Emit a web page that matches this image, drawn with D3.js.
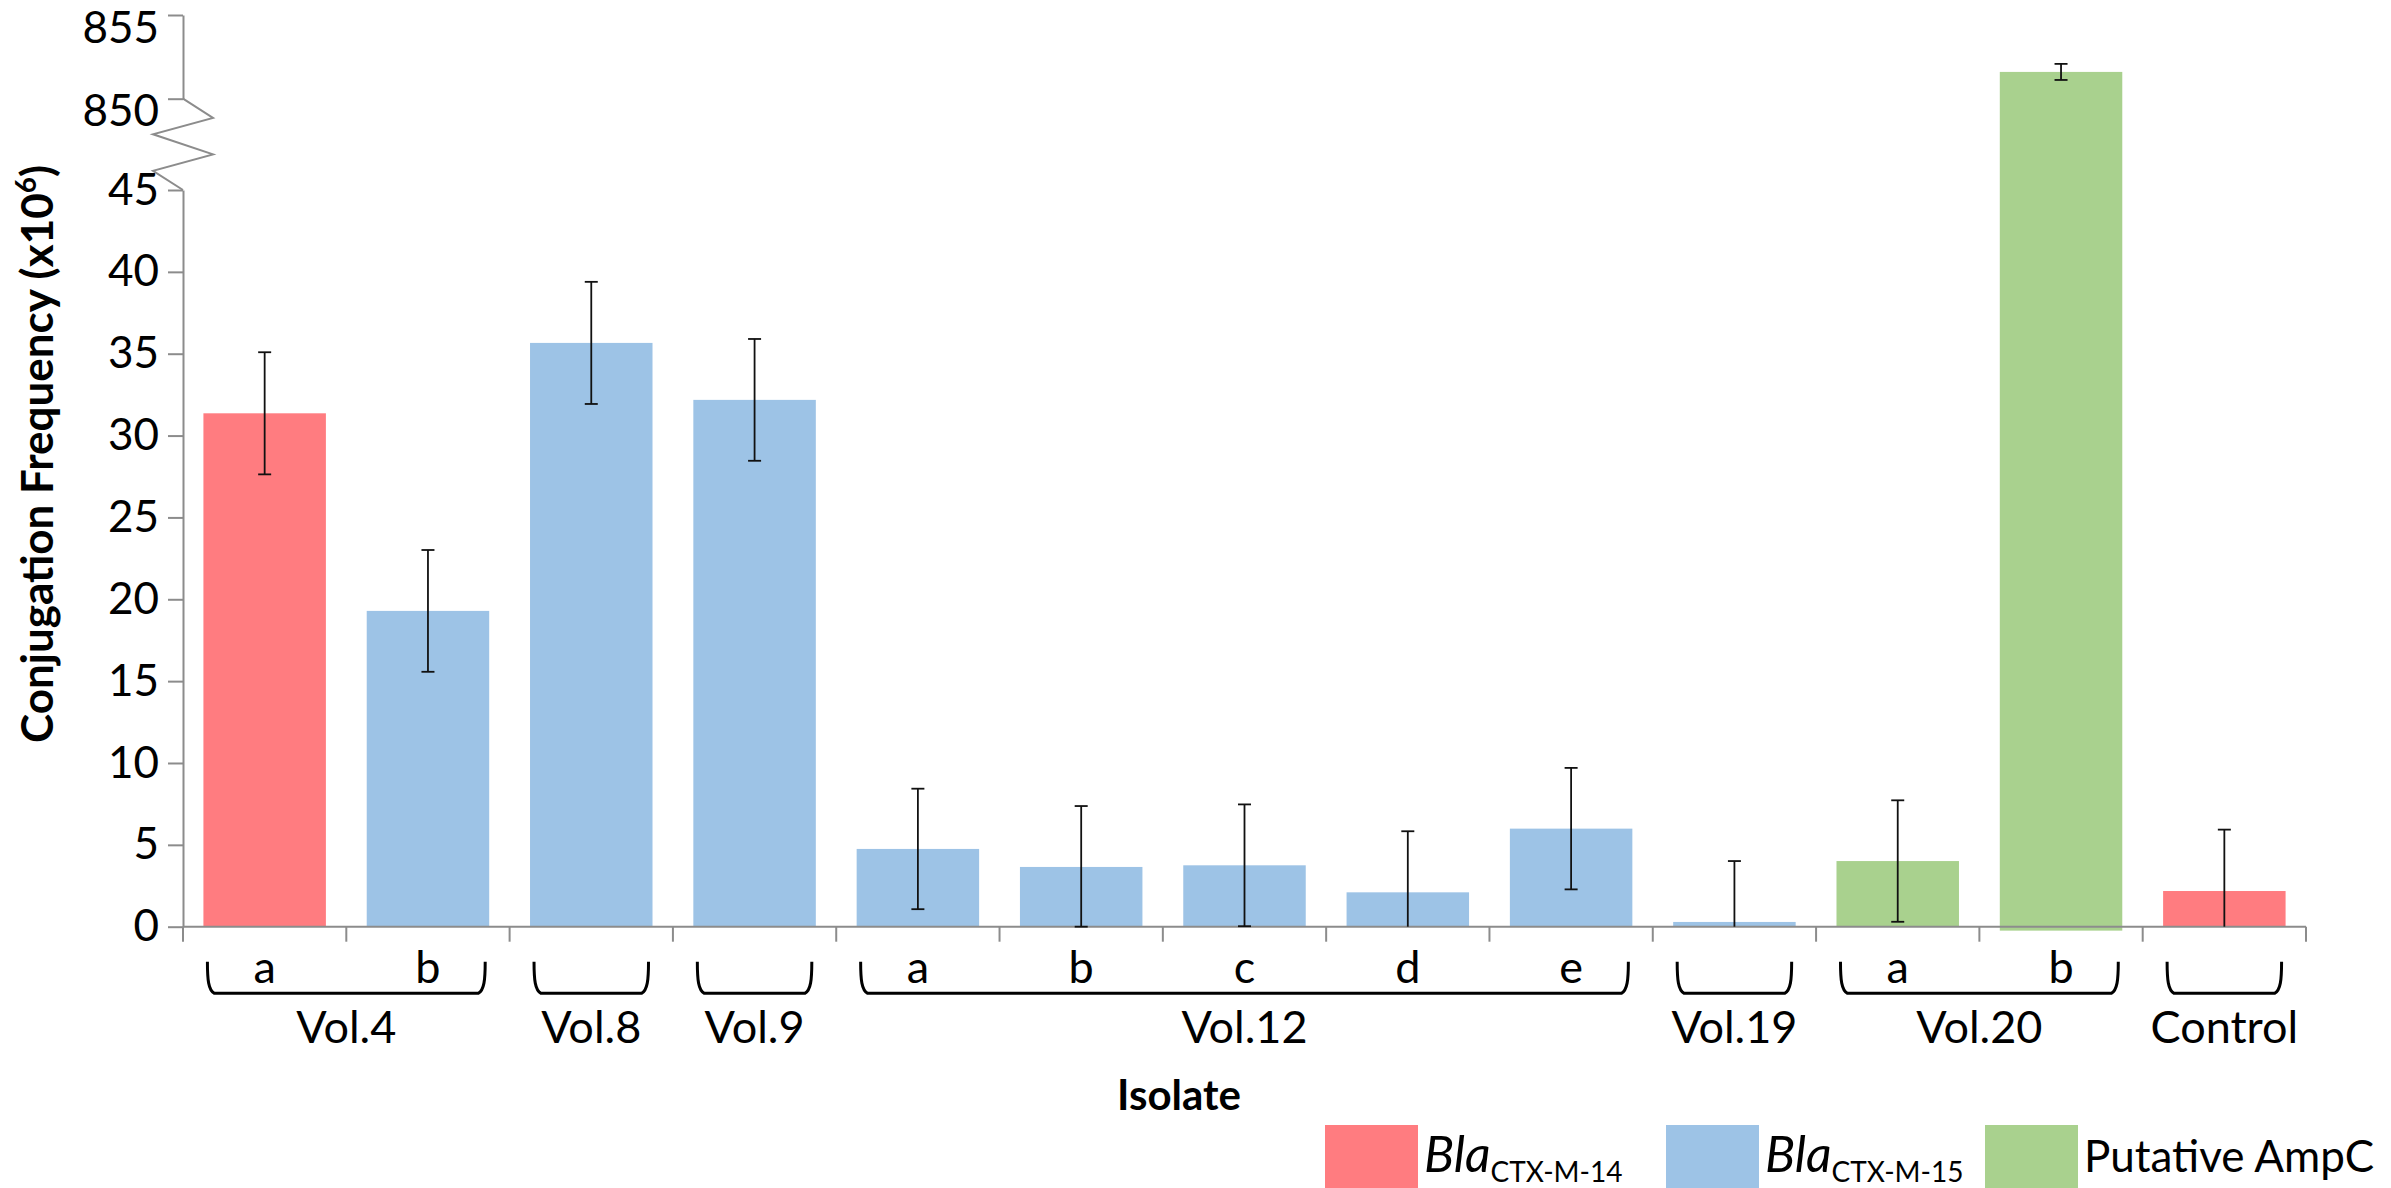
<!DOCTYPE html>
<html>
<head>
<meta charset="utf-8">
<script src="https://cdn.jsdelivr.net/npm/d3@7"></script>
<style>
  html, body { margin: 0; padding: 0; background: #fff; }
  svg { display: block; font-family: Lato, "Open Sans", sans-serif; }
</style>
</head>
<body>
<svg id="chart" width="2391" height="1188"></svg>
<script>
// data
const isolateIds = ["4a", "4b", "8", "9", "12a", "12b", "12c", "12d", "12e", "19", "20a", "20b", "ctl"];
const subLabels = ["a", "b", "", "", "a", "b", "c", "d", "e", "", "a", "b", ""];
const groupOf = ["Vol.4", "Vol.4", "Vol.8", "Vol.9", "Vol.12", "Vol.12", "Vol.12", "Vol.12", "Vol.12",
                 "Vol.19", "Vol.20", "Vol.20", "Control"];
const groupNames = ["Vol.4", "Vol.8", "Vol.9", "Vol.12", "Vol.19", "Vol.20", "Control"];
const geneOf = ["CTX-M-14", "CTX-M-15", "CTX-M-15", "CTX-M-15", "CTX-M-15", "CTX-M-15", "CTX-M-15",
                "CTX-M-15", "CTX-M-15", "CTX-M-15", "AmpC", "AmpC", "CTX-M-14"];
const values = [31.36, 19.29, 35.66, 32.18, 4.75, 3.65, 3.75, 2.10, 5.99, 0.29, 4.01, 851.6, 2.18];
const errors = [3.73, 3.72, 3.73, 3.72, 3.68, 3.72, 3.72, 3.73, 3.71, 3.72, 3.71, 0.48, 3.75];
// Vol.20 b bar dips a little below the axis in the original
const baseValues = [0, 0, 0, 0, 0, 0, 0, 0, 0, 0, 0, -0.24, 0];
const lowerTicks = [0, 5, 10, 15, 20, 25, 30, 35, 40, 45];
const upperTicks = [850, 855];

const legendKeys = ["CTX-M-14", "CTX-M-15", "AmpC"];
const colors = { "CTX-M-14": "#FF7C80", "CTX-M-15": "#9DC3E6", "AmpC": "#A9D18E" };

const svg = d3.select("#chart");
const axisColor = "#8c8c8c";

const left = 183, right = 2306;
const x = d3.scaleBand()
    .domain(isolateIds)
    .range([left, right])
    .paddingInner(0.25)
    .paddingOuter(0.125);

// broken y axis: two linear pieces
const yLow = d3.scaleLinear().domain([0, 45]).range([926.7, 190]);
const yHigh = d3.scaleLinear().domain([850, 855]).range([98.7, 15]);
const y = v => v >= 850 ? yHigh(v) : yLow(v);

// bars
svg.append("g")
    .selectAll("rect")
    .data(isolateIds)
    .join("rect")
    .attr("x", d => x(d))
    .attr("width", x.bandwidth())
    .attr("y", (d, i) => y(values[i]))
    .attr("height", (d, i) => y(baseValues[i]) - y(values[i]))
    .attr("fill", (d, i) => colors[geneOf[i]]);

// y axes
const yAxisLow = svg.append("g")
    .attr("transform", `translate(${left},0)`)
    .call(d3.axisLeft(yLow).tickValues(lowerTicks).tickFormat(d3.format("d"))
        .tickSize(15).tickSizeOuter(0).tickPadding(9));
const yAxisHigh = svg.append("g")
    .attr("transform", `translate(${left},0)`)
    .call(d3.axisLeft(yHigh).tickValues(upperTicks).tickFormat(d3.format("d"))
        .tickSize(15).tickSizeOuter(0).tickPadding(9));
yAxisHigh.selectAll(".tick text").attr("transform", "translate(0,13)");

[yAxisLow, yAxisHigh].forEach(g => {
    g.selectAll("path, line").attr("stroke", axisColor).attr("stroke-width", 2);
    g.selectAll("text").attr("font-size", 44).attr("fill", "#000")
        .attr("font-family", "Lato, 'Open Sans', sans-serif");
});

// zig-zag break between the two pieces
const zTop = yHigh(850), zBot = yLow(45);
const zig = [[0, 0], [30, 0.21], [-30, 0.39], [30, 0.61], [-30, 0.79], [0, 1]];
svg.append("path")
    .attr("d", d3.line()(zig.map(p => [left + p[0], zTop + p[1] * (zBot - zTop)])))
    .attr("fill", "none")
    .attr("stroke", axisColor)
    .attr("stroke-width", 2);

// x axis with ticks on category boundaries
const y0 = yLow(0);
const xAxis = svg.append("g");
xAxis.append("line")
    .attr("x1", left).attr("x2", right)
    .attr("y1", y0).attr("y2", y0)
    .attr("stroke", axisColor).attr("stroke-width", 2);
const bounds = isolateIds.map(d => x(d) - x.step() * x.paddingInner() / 2).concat([right]);
xAxis.selectAll(".bt")
    .data(bounds)
    .join("line")
    .attr("class", "bt")
    .attr("x1", d => d).attr("x2", d => d)
    .attr("y1", y0).attr("y2", y0 + 15)
    .attr("stroke", axisColor).attr("stroke-width", 2);

// error bars
const errG = svg.append("g").attr("stroke", "#111").attr("stroke-width", 1.8);
isolateIds.forEach((d, i) => {
    const cx = x(d) + x.bandwidth() / 2;
    const hi = values[i] + errors[i];
    const loRaw = values[i] - errors[i];
    const lo = values[i] < 850 ? Math.max(0, loRaw) : loRaw;
    errG.append("line").attr("x1", cx).attr("x2", cx).attr("y1", y(hi)).attr("y2", y(lo));
    errG.append("line").attr("x1", cx - 6.5).attr("x2", cx + 6.5).attr("y1", y(hi)).attr("y2", y(hi));
    if (loRaw > -0.15) {
        errG.append("line").attr("x1", cx - 6.5).attr("x2", cx + 6.5).attr("y1", y(lo)).attr("y2", y(lo));
    }
});

// sub labels a..e
const bTop = 961.7, bBot = 993.3;
svg.append("g")
    .selectAll("text")
    .data(isolateIds)
    .join("text")
    .attr("x", d => x(d) + x.bandwidth() / 2)
    .attr("y", 982.5)
    .attr("text-anchor", "middle")
    .attr("font-size", 45)
    .text((d, i) => subLabels[i]);

// group brackets and names
const grpG = svg.append("g");
groupNames.forEach(g => {
    const ids = isolateIds.filter((d, i) => groupOf[i] === g);
    const x0 = x(ids[0]) + 4;
    const x1 = x(ids[ids.length - 1]) + x.bandwidth() - 4;
    grpG.append("path")
        .attr("d", `M${x0},${bTop} C${x0},${bTop + 18} ${x0 + 1},${bBot - 3} ${x0 + 7},${bBot}
                    L${x1 - 7},${bBot} C${x1 - 1},${bBot - 3} ${x1},${bTop + 18} ${x1},${bTop}`)
        .attr("fill", "none")
        .attr("stroke", "#000")
        .attr("stroke-width", 3);
    grpG.append("text")
        .attr("x", (x0 + x1) / 2)
        .attr("y", 1043)
        .attr("text-anchor", "middle")
        .attr("font-size", 45)
        .text(g);
});

// axis titles
svg.append("text")
    .attr("x", 1179)
    .attr("y", 1110)
    .attr("text-anchor", "middle")
    .attr("font-size", 42)
    .attr("font-weight", "bold")
    .text("Isolate");

const yTitle = svg.append("text")
    .attr("transform", "translate(53,454) rotate(-90)")
    .attr("text-anchor", "middle")
    .attr("font-size", 44)
    .attr("font-weight", "bold");
yTitle.append("tspan").text("Conjugation Frequency (x10");
yTitle.append("tspan").attr("font-size", 28).attr("dy", -17).text("6");
yTitle.append("tspan").attr("dy", 17).text(")");

// legend
const legendX = [1325, 1666, 1985];
const lg = svg.append("g");
legendKeys.forEach((k, i) => {
    lg.append("rect")
        .attr("x", legendX[i]).attr("y", 1125)
        .attr("width", 93).attr("height", 64)
        .attr("fill", colors[k]);
    const t = lg.append("text")
        .attr("x", legendX[i] + 99)
        .attr("y", 1172);
    if (k === "AmpC") {
        t.attr("font-size", 44).text("Putative AmpC");
    } else {
        t.append("tspan").attr("font-size", 50).attr("font-style", "italic").text("Bla");
        t.append("tspan").attr("font-size", 28).attr("dy", 10).text(k);
    }
});
</script>
</body>
</html>
